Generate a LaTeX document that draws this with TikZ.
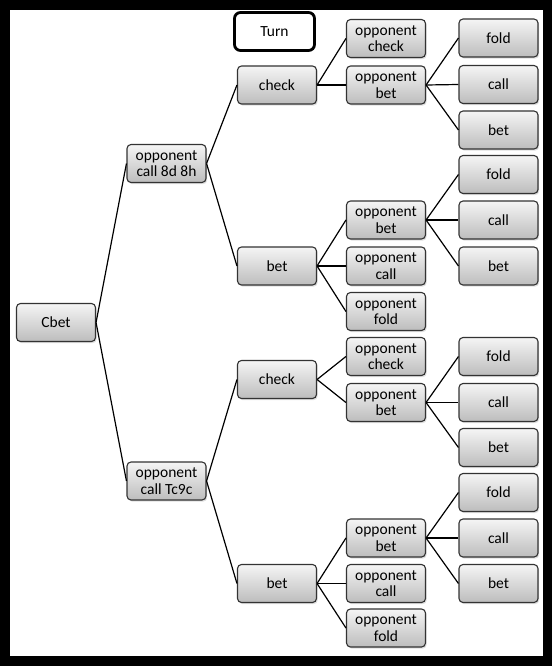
\documentclass[tikz,border=0pt]{standalone}
\usepackage{fontspec}
\setmainfont{Carlito}
\usetikzlibrary{shadows}

\tikzset{
  act/.style={draw=black!80, line width=1.1pt, rounded corners=4pt,
              top color=black!4, bottom color=black!26,
              minimum width=79pt, minimum height=38pt, inner sep=1pt,
              align=center, drop shadow={opacity=0.25, shadow xshift=1.2pt, shadow yshift=-1.6pt}},
  stage/.style={draw=black, line width=2.8pt, rounded corners=6pt, fill=white,
                minimum width=80pt, minimum height=38pt, inner sep=1pt},
  edge/.style={draw=black, line width=1.2pt}
}

\begin{document}
\begin{tikzpicture}[x=1pt, y=-1pt, font=\fontsize{15.5}{16.5}\selectfont]

% ---- Frame --------------------------------------------------------------
\fill[black] (0,0) rectangle (552,666);
\fill[white] (10,10) rectangle (543,656);

% ---- Root and first reply -------------------------------------------------
\node[act] (cbet) at (56,322.5) {Cbet};
\node[act] (opp8d) at (166.5,163.5) {opponent\\call 8d 8h};
\node[act] (oppTc) at (166.5,481) {opponent\\call Tc9c};
\node[stage] (turn) at (274.5,31.5) {Turn};

% ---- Upper branch: check ------------------------------------------------
\node[act] (chkA) at (277,85) {check};
\node[act] (ochkA) at (386,38.5) {opponent\\check};
\node[act] (obetA) at (386,85) {opponent\\bet};
\node[act] (foldA) at (498.5,38) {fold};
\node[act] (callA) at (498.5,84.5) {call};
\node[act] (betA) at (498.5,130) {bet};

% ---- Upper branch: bet --------------------------------------------------
\node[act] (betB) at (277,266) {bet};
\node[act] (obetB) at (386,220) {opponent\\bet};
\node[act] (ocallB) at (386,266) {opponent\\call};
\node[act] (ofoldB) at (386,311.5) {opponent\\fold};
\node[act] (foldB) at (498.5,174.5) {fold};
\node[act] (callB) at (498.5,220) {call};
\node[act] (betBB) at (498.5,266) {bet};

% ---- Lower branch: check ------------------------------------------------
\node[act] (chkC) at (277,379.5) {check};
\node[act] (ochkC) at (386,356.5) {opponent\\check};
\node[act] (obetC) at (386,402.5) {opponent\\bet};
\node[act] (foldC) at (498.5,356.5) {fold};
\node[act] (callC) at (498.5,402.5) {call};
\node[act] (betC) at (498.5,447.5) {bet};

% ---- Lower branch: bet --------------------------------------------------
\node[act] (betD) at (277,583.5) {bet};
\node[act] (obetD) at (386,538) {opponent\\bet};
\node[act] (ocallD) at (386,583.5) {opponent\\call};
\node[act] (ofoldD) at (386,628) {opponent\\fold};
\node[act] (foldD) at (498.5,492.5) {fold};
\node[act] (callD) at (498.5,538) {call};
\node[act] (betDD) at (498.5,583.5) {bet};

% ---- Edges --------------------------------------------------------------
\foreach \p/\c in {cbet/opp8d, cbet/oppTc,
                   opp8d/chkA, opp8d/betB, oppTc/chkC, oppTc/betD,
                   chkA/ochkA, chkA/obetA, obetA/foldA, obetA/callA, obetA/betA,
                   betB/obetB, betB/ocallB, betB/ofoldB, obetB/foldB, obetB/callB, obetB/betBB,
                   chkC/ochkC, chkC/obetC, obetC/foldC, obetC/callC, obetC/betC,
                   betD/obetD, betD/ocallD, betD/ofoldD, obetD/foldD, obetD/callD, obetD/betDD}
  \draw[edge] (\p.east) -- (\c.west);

\end{tikzpicture}
\end{document}
